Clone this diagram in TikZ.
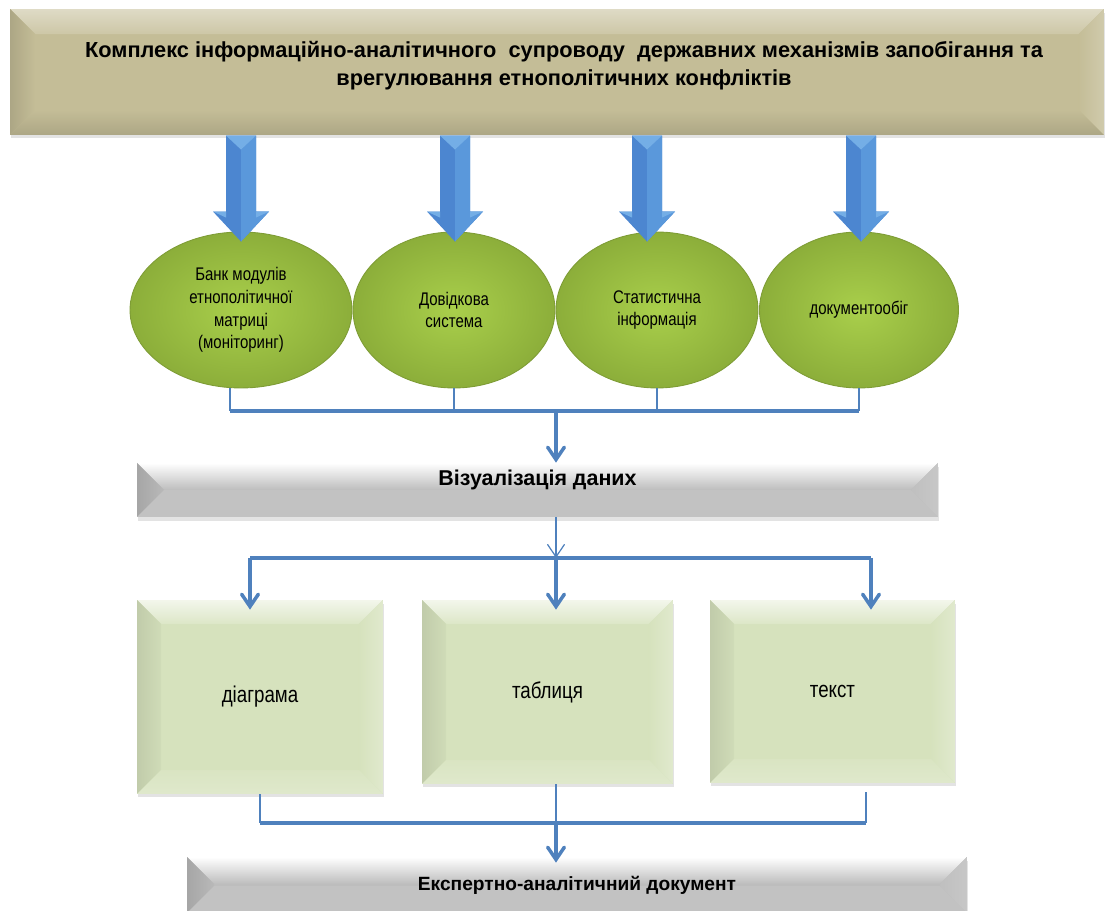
\documentclass[tikz,border=0pt]{standalone}
\usepackage{fontspec}
\setmainfont{Liberation Sans}
\newfontfamily\narrowfont[FakeStretch=0.82]{Liberation Sans}
\usetikzlibrary{shapes.geometric,arrows.meta,calc,shadows}

\definecolor{topfill}{HTML}{C4BD97}
\definecolor{arrowblue}{HTML}{4C86D0}
\definecolor{arrowlight}{HTML}{5A98DB}
\definecolor{arrowshine}{HTML}{74AEE6}
\definecolor{linkblue}{HTML}{4F81BD}
\definecolor{ovallight}{HTML}{A9CF4B}
\definecolor{ovaldark}{HTML}{8CAE3A}
\definecolor{ovalrim}{HTML}{7E9C36}
\definecolor{boxgreen}{HTML}{D6E2BD}

\tikzset{
  bevel/.style n args={5}{path picture={
    \coordinate (bnw) at (path picture bounding box.north west);
    \coordinate (bse) at (path picture bounding box.south east);
    \path[#2] (bnw) -- (bnw -| bse) -- ($(bnw -| bse)+(-#1,#1)$) -- ($(bnw)+(#1,#1)$) -- cycle;
    \path[#3] (bnw) -- ($(bnw)+(#1,#1)$) -- ($(bnw |- bse)+(#1,-#1)$) -- (bnw |- bse) -- cycle;
    \path[#4] (bnw -| bse) -- ($(bnw -| bse)+(-#1,#1)$) -- ($(bse)+(-#1,-#1)$) -- (bse) -- cycle;
    \path[#5] (bnw |- bse) -- ($(bnw |- bse)+(#1,-#1)$) -- ($(bse)+(-#1,-#1)$) -- (bse) -- cycle;
  }},
  softshadow/.style={drop shadow={opacity=.22,shadow xshift=.5pt,shadow yshift=-2pt}},
  topbox/.style={rectangle, inner sep=0pt, fill=topfill, softshadow,
    bevel={25}{top color=topfill!55!white,bottom color=topfill!85!white}{left color=topfill!88!black,right color=topfill}{left color=topfill,right color=topfill!80!white}{top color=topfill,bottom color=topfill!88!black}},
  titletext/.style={align=center, inner sep=0pt,
    font=\bfseries\fontsize{12.4}{16}\selectfont},
  oval/.style={ellipse, inner sep=0pt, minimum height=3.12cm, draw=ovalrim, line width=.5pt,
    inner color=ovallight, outer color=ovaldark, align=center,
    font=\narrowfont\fontsize{10.4}{13}\selectfont},
  graybox/.style={rectangle, inner sep=0pt, fill=gray!52, softshadow,
    bevel={27}{top color=white,bottom color=gray!52}{left color=gray!70,right color=gray!55}{left color=gray!50,right color=gray!44}{fill=gray!48}},
  greenbox/.style={rectangle, inner sep=0pt, fill=boxgreen, softshadow,
    bevel={24}{top color=boxgreen!30!white,bottom color=boxgreen!85!white}{left color=boxgreen!90!black,right color=boxgreen!97!black}{left color=boxgreen,right color=boxgreen!75!white}{top color=boxgreen!92!white,bottom color=boxgreen!78!white},
    font=\narrowfont\fontsize{13}{15}\selectfont},
  bus/.style={linkblue, line width=2pt},
  tap/.style={linkblue, line width=.7pt},
  bigarrow/.pic={
    \fill[arrowblue] (0,0) -- (-28,-30) -- (-15,-30) -- (-15,-106) -- (15,-106) -- (15,-30) -- (28,-30) -- cycle;
    \fill[arrowlight] (0,0) -- (0,-92) -- (15,-106) -- (15,-30) -- (28,-30) -- cycle;
    \fill[arrowshine] (-15,-106) -- (15,-106) -- (0,-92) -- cycle;
    \fill[arrowshine] (-28,-30) -- (-15,-30) -- (-15,-24) -- cycle;
    \fill[arrowshine] (28,-30) -- (15,-30) -- (15,-24) -- cycle;
  },
}

\begin{document}
\begin{tikzpicture}[x=0.02cm, y=-0.02cm, >={Straight Barb[length=7pt,width=9.5pt,line cap=round]}, line join=round]
\useasboundingbox (0,0) rectangle (1107,911);

% верхній блок
\node[topbox, minimum width=21.88cm, minimum height=2.52cm] (top) at (557,72) {};
\node[titletext] (title) at (564,66) {Комплекс інформаційно-аналітичного\ \ супроводу\ \ державних механізмів запобігання та\\врегулювання етнополітичних конфліктів};

% модулі
\node[oval, minimum width=4.44cm] (e1) at (241,310) {Банк модулів\\етнополітичної\\матриці\\(моніторинг)};
\node[oval, minimum width=4.04cm] (e2) at (454,310) {Довідкова\\система};
\node[oval, minimum width=4.04cm] (e3) at (657,310) {Статистична\\інформація};
\node[oval, minimum width=3.98cm] (e4) at (859,310) {документообіг};

\pic at ($(e1.north)+(0,10)$) {bigarrow};
\pic at ($(e2.north)+(1,10)$) {bigarrow};
\pic at ($(e3.north)+(-10,10)$) {bigarrow};
\pic at ($(e4.north)+(2,10)$) {bigarrow};

% візуалізація
\node[graybox, minimum width=16.02cm, minimum height=1.08cm] (vis) at (537.5,490) {};
\node[inner sep=0pt, font=\bfseries\fontsize{12.2}{14}\selectfont] (vislabel) at (537.5,480) {Візуалізація даних};

\node[greenbox, minimum width=4.92cm, minimum height=3.88cm] (d1) at (260,697) {діаграма};
\node[greenbox, minimum width=5.02cm, minimum height=3.68cm] (d2) at (547.5,692) {таблиця};
\node[greenbox, minimum width=4.90cm, minimum height=3.66cm] (d3) at (832.5,691.5) {текст};

\node[graybox, minimum width=15.6cm, minimum height=1.12cm, font=\bfseries\fontsize{10.9}{13}\selectfont] (doc) at (577,885) {Експертно-аналітичний документ};

% з'єднання
\coordinate (busA) at (556,411);
\coordinate (busB) at (556,558);
\coordinate (busBl) at (250,558);
\coordinate (busBr) at (871,558);
\coordinate (busC) at (556,823);
\coordinate (busCr) at (866,823);

\draw[tap] ([xshift=-.22cm]e1.south) -- ([xshift=-.22cm]e1.south |- busA);
\foreach \e in {e2,e3,e4}
  \draw[tap] (\e.south) -- (\e.south |- busA);
\draw[bus] ([xshift=-.22cm]e1.south |- busA) -- (e4.south |- busA);
\draw[bus,->] (busA) -- (busA |- vis.north);

\draw[tap,->] (busB |- vis.south) -- (busB);
\draw[bus] (busBl) -- (busBr);
\draw[bus,->] (busBl) -- ($(busBl |- d1.north)+(0,10)$);
\draw[bus,->] (busB) -- ($(busB |- d2.north)+(0,10)$);
\draw[bus,->] (busBr) -- ($(busBr |- d3.north)+(0,10)$);

\draw[tap] (d1.south) -- (d1.south |- busC);
\draw[tap] (busC |- d2.south) -- (busC);
\draw[tap] ($(busCr |- d3.south)+(0,9)$) -- (busCr);
\draw[bus] (d1.south |- busC) -- (busCr);
\draw[bus,->] (busC) -- ($(busC |- doc.north)+(0,6)$);
\end{tikzpicture}
\end{document}
